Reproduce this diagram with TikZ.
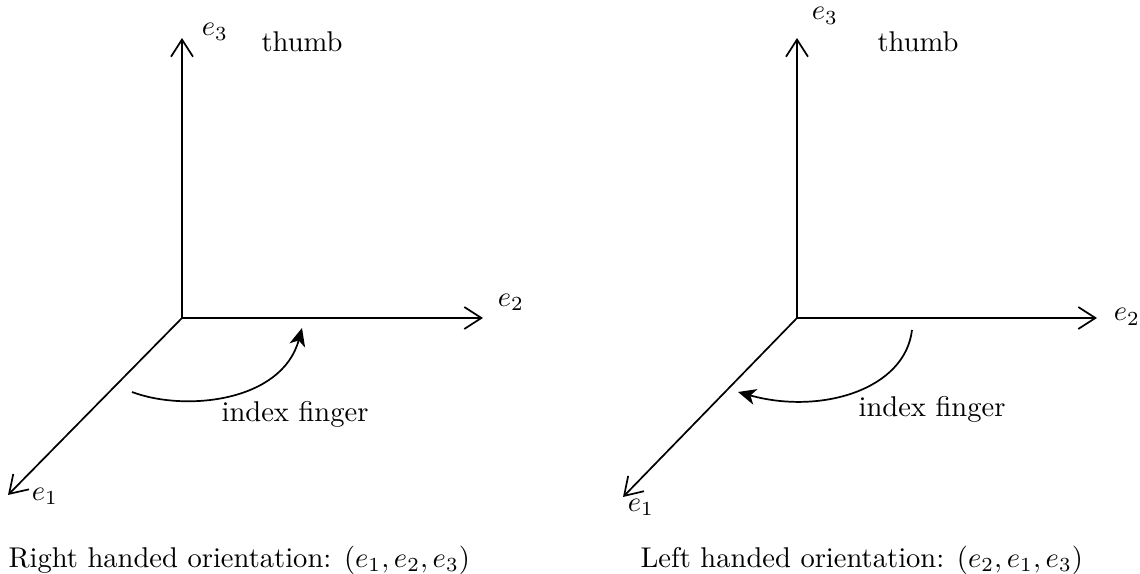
\documentclass[tikz,border=0pt]{standalone}
\usetikzlibrary{arrows.meta}
\begin{document}
\begin{tikzpicture}[x=0.35pt,y=-0.35pt,
  axis/.style={line width=0.6pt,-{Straight Barb[length=6pt,width=7.7pt]}},
  turn/.style={line width=0.6pt,-{Stealth[length=6.3pt,width=5.6pt,inset=1.8pt]}},
  lbl/.style={inner sep=0pt,anchor=center},
  txt/.style={inner sep=0pt,anchor=west}]
\useasboundingbox (0,0) rectangle (1140,574);
% left
\coordinate (O1) at (182,318);
\coordinate (A3) at (182,38);
\coordinate (A2) at (483,318);
\coordinate (A1) at (8,495);
\draw[axis] (O1) -- (A3);
\draw[axis] (O1) -- (A2);
\draw[axis] (O1) -- (A1);
\node[lbl] (l3) at (215,32) {$e_3$};
\node[txt] (lt) at (261,42) {thumb};
\node[lbl] (l2) at (511,302) {$e_2$};
\node[lbl] (l1) at (45,496) {$e_1$};
\coordinate (S1) at (132,392);
\coordinate (E1) at (302,328);
\draw[turn] (S1) .. controls (185,412) and (282,402) .. (E1);
\node[txt] (if1) at (221,414) {index finger};
\node[txt] (c1) at (8,560) {Right handed orientation: $(e_1,e_2,e_3)$};
% right
\coordinate (O2) at (797,318);
\coordinate (B3) at (797,38);
\coordinate (B2) at (1097,318);
\coordinate (B1) at (623,497);
\draw[axis] (O2) -- (B3);
\draw[axis] (O2) -- (B2);
\draw[axis] (O2) -- (B1);
\node[lbl] (r3) at (825,16) {$e_3$};
\node[txt] (rt) at (877,42) {thumb};
\node[lbl] (r2) at (1127,317) {$e_2$};
\node[lbl] (r1) at (641,507) {$e_1$};
\coordinate (S2) at (912,330);
\coordinate (E2) at (738,392);
\draw[turn] (S2) .. controls (905,390) and (820,415) .. (E2);
\node[txt] (if2) at (858,409) {index finger};
\node[txt] (c2) at (640,560) {Left handed orientation: $(e_2,e_1,e_3)$};
\end{tikzpicture}
\end{document}
